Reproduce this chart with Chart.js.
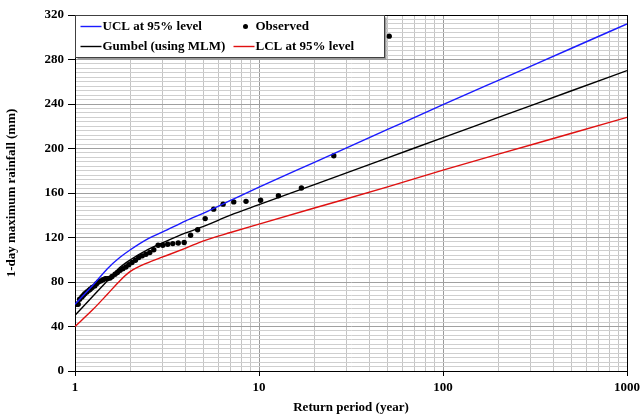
<!DOCTYPE html>
<html>
<head>
<meta charset="utf-8">
<script src="https://cdn.jsdelivr.net/npm/chart.js@4.4.1/dist/chart.umd.min.js"></script>
<style>
  html, body { margin: 0; padding: 0; background: #fff; }
  #wrap { width: 644px; height: 417px; position: relative; }
</style>
</head>
<body>
<div id="wrap"><canvas id="chart"></canvas></div>
<script>
// ── Data ─────────────────────────────────────────────────────────────────────
// fitted curves (return period in years -> rainfall in mm)
const curveT   = [1, 1.25, 1.5, 1.75, 2, 2.5, 3, 4, 5, 7, 10, 20, 50, 100, 200, 500, 1000];
const uclRain  = [60, 77, 92, 102, 109, 119, 125, 135, 142, 153.3, 165.3, 187.6, 217.1, 239.4, 261.3, 290.1, 312];
const gumbRain = [50, 67.2, 81.2, 93, 100, 109.4, 115.3, 124.1, 130, 140.1, 149.5, 167.6, 191.6, 209.8, 227.9, 251.9, 270];
const lclRain  = [40, 55.2, 69, 81, 89.5, 97.5, 102.5, 110.5, 117, 124.5, 132, 146.5, 165.5, 180.6, 194.9, 213.7, 228];

// observed annual maxima, plotted at their return periods
const obsT = [51, 25.5, 17, 12.75, 10.2, 8.5, 7.29, 6.38, 5.67, 5.1,
              4.64, 4.25, 3.92, 3.64, 3.4, 3.19, 3, 2.83, 2.68, 2.55,
              2.43, 2.32, 2.22, 2.13, 2.04, 1.96, 1.89, 1.82, 1.76, 1.7,
              1.65, 1.59, 1.55, 1.5, 1.46, 1.42, 1.38, 1.34, 1.31, 1.28,
              1.24, 1.21, 1.19, 1.16, 1.13, 1.11, 1.09, 1.06, 1.04, 1.02];
const obsRain = [301, 193.5, 164.5, 157.5, 153.5, 152.5, 152, 150, 145.5, 137,
                 127, 122, 115.5, 115, 114.5, 114, 113, 113, 109, 106.5,
                 105, 103.5, 102, 99.5, 97.5, 95.5, 93.5, 92, 90.5, 88.5,
                 87, 85, 83.5, 83, 83, 82, 81, 80, 78.5, 76.5,
                 75, 73.5, 72.5, 71, 69.5, 68, 66.5, 64.5, 60, 60];

// axes
const xGridValues  = [1, 2, 3, 4, 5, 6, 7, 8, 9, 10, 20, 30, 40, 50, 60, 70, 80, 90,
                      100, 200, 300, 400, 500, 600, 700, 800, 900, 1000];
const xLabelValues = [1, 10, 100, 1000];
const yMin = 0, yMax = 320, yMinorStep = 4, yMajorStep = 40;

const FONT = '"Liberation Serif", "Times New Roman", serif';

const pts = (xs, ys) => xs.map((x, i) => ({ x: x, y: ys[i] }));

// ── Plugins ──────────────────────────────────────────────────────────────────
// frame round the plot area (top + right edges)
const frame = {
  id: 'frame',
  beforeDatasetsDraw(chart) {
    const { ctx, chartArea: a } = chart;
    ctx.save();
    ctx.strokeStyle = '#000';
    ctx.lineWidth = 1;
    ctx.strokeRect(Math.round(a.left) + 0.5, Math.round(a.top) + 0.5,
                   Math.round(a.right - a.left), Math.round(a.bottom - a.top));
    ctx.restore();
  }
};

// Excel-like legend box sitting inside the plot, two columns
const boxLegend = {
  id: 'boxLegend',
  afterDatasetsDraw(chart) {
    const { ctx, chartArea: a } = chart;
    const x0 = Math.round(a.left) + 0.5, y0 = Math.round(a.top) + 0.5;
    const w = 309, h = 42;
    ctx.save();
    ctx.fillStyle = '#9a9a9a';
    ctx.fillRect(x0 + 2, y0 + 2, w, h);
    ctx.fillStyle = '#fff';
    ctx.fillRect(x0, y0, w, h);
    ctx.strokeStyle = '#404040';
    ctx.lineWidth = 1;
    ctx.strokeRect(x0, y0, w, h);

    ctx.font = 'bold 13px ' + FONT;
    ctx.textBaseline = 'middle';
    ctx.fillStyle = '#000';
    const cols = [x0 + 5, x0 + 158];
    const rows = [y0 + 11, y0 + 31];
    chart.data.datasets.forEach((ds, i) => {
      const cx = cols[i % 2], cy = rows[Math.floor(i / 2)];
      if (ds.showLine === false) {
        ctx.beginPath();
        ctx.arc(cx + 12, cy, 2.5, 0, Math.PI * 2);
        ctx.fillStyle = ds.backgroundColor;
        ctx.fill();
      } else {
        ctx.beginPath();
        ctx.moveTo(cx, cy);
        ctx.lineTo(cx + 21, cy);
        ctx.strokeStyle = ds.borderColor;
        ctx.lineWidth = 1.4;
        ctx.stroke();
      }
      ctx.fillStyle = '#000';
      ctx.fillText(ds.label, cx + 22, cy);
    });
    ctx.restore();
  }
};

// ── Chart ────────────────────────────────────────────────────────────────────
const lineStyle = {
  showLine: true,
  borderWidth: 1.4,
  pointRadius: 0,
  pointHoverRadius: 0,
  cubicInterpolationMode: 'monotone',
  fill: false
};

new Chart(document.getElementById('chart'), {
  type: 'scatter',
  data: {
    datasets: [
      Object.assign({ label: 'UCL at 95% level', data: pts(curveT, uclRain),
                      borderColor: '#1a1aff', backgroundColor: '#1a1aff' }, lineStyle),
      { label: 'Observed', data: pts(obsT, obsRain), showLine: false,
        pointRadius: 2.7, pointBorderWidth: 0,
        backgroundColor: '#000', borderColor: '#000' },
      Object.assign({ label: 'Gumbel (using MLM)', data: pts(curveT, gumbRain),
                      borderColor: '#000', backgroundColor: '#000' }, lineStyle),
      Object.assign({ label: 'LCL at 95% level', data: pts(curveT, lclRain),
                      borderColor: '#e01010', backgroundColor: '#e01010' }, lineStyle)
    ]
  },
  options: {
    responsive: true,
    maintainAspectRatio: false,
    animation: false,
    events: [],
    layout: { padding: { top: 15, right: 15, left: 0, bottom: 0 } },
    plugins: {
      legend: { display: false },
      tooltip: { enabled: false }
    },
    scales: {
      x: {
        type: 'logarithmic',
        min: 1,
        max: 1000,
        afterBuildTicks: scale => { scale.ticks = xGridValues.map(v => ({ value: v })); },
        afterFit: scale => { scale.height = 46; },
        border: { color: '#000', width: 1 },
        grid: {
          color: ctx => xLabelValues.includes(ctx.tick && ctx.tick.value) ? '#9a9a9a' : '#c4c4c4',
          tickColor: ctx => xLabelValues.includes(ctx.tick && ctx.tick.value) ? '#000' : 'rgba(0,0,0,0)',
          tickLength: 5,
          lineWidth: 1
        },
        ticks: {
          autoSkip: false,
          maxRotation: 0,
          padding: 4,
          color: '#000',
          font: { family: FONT, size: 13, weight: 'bold' },
          callback: v => xLabelValues.includes(v) ? String(v) : ''
        },
        title: {
          display: true,
          text: 'Return period (year)',
          color: '#000',
          font: { family: FONT, size: 13, weight: 'bold' },
          padding: { top: 0, bottom: 2 }
        }
      },
      y: {
        min: yMin,
        max: yMax,
        afterFit: scale => { scale.width = 75; },
        border: { color: '#000', width: 1 },
        grid: {
          color: ctx => ctx.tick.value % yMajorStep === 0 ? '#a0a0a0' : '#cfcfcf',
          tickColor: ctx => ctx.tick.value % yMajorStep === 0 ? '#000' : 'rgba(0,0,0,0)',
          tickLength: 7,
          lineWidth: 1
        },
        ticks: {
          stepSize: yMinorStep,
          autoSkip: false,
          padding: 4,
          color: '#000',
          font: { family: FONT, size: 13, weight: 'bold' },
          callback: v => v % yMajorStep === 0 ? String(v) : ''
        },
        title: {
          display: true,
          text: '1-day maximum rainfall (mm)',
          color: '#000',
          font: { family: FONT, size: 13, weight: 'bold' },
          padding: { top: 4, bottom: 0 }
        }
      }
    }
  },
  plugins: [frame, boxLegend]
});
</script>
</body>
</html>
